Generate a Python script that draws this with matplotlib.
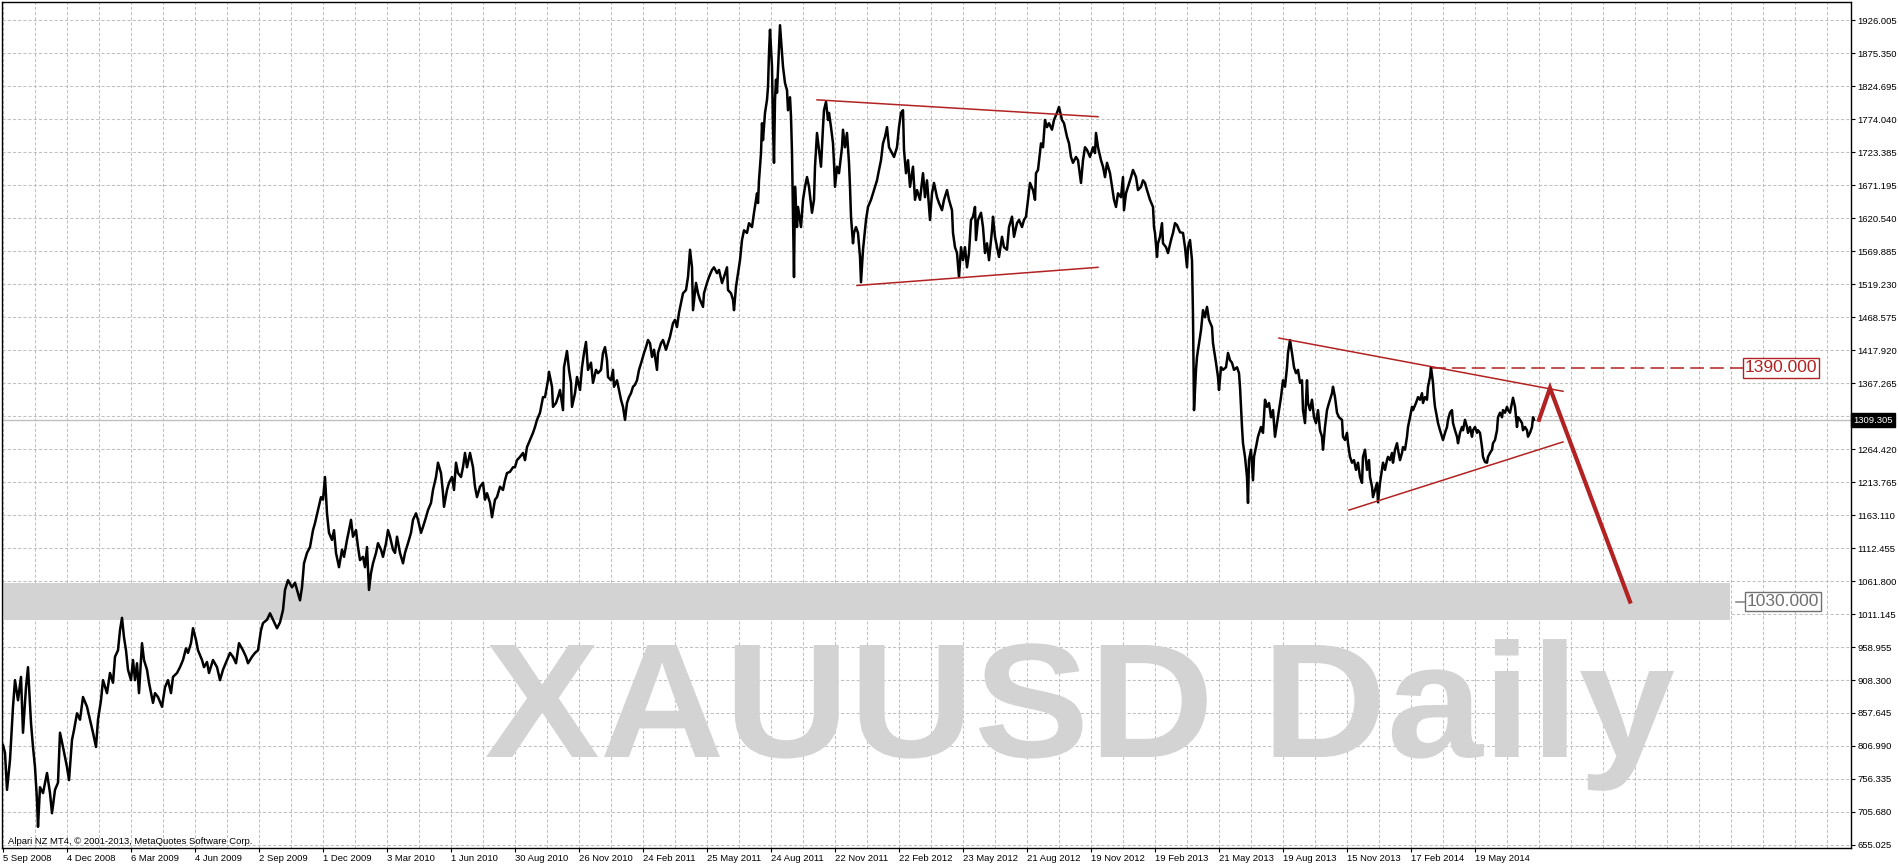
import matplotlib
matplotlib.use("Agg")
import matplotlib.pyplot as plt
from matplotlib.patches import Rectangle, PathPatch
from matplotlib.textpath import TextPath
from matplotlib.font_manager import FontProperties
from matplotlib.transforms import Affine2D, blended_transform_factory

# daily bar number (MT4 chart, one bar per column) and approx. price
bar = [3, 5, 7, 10, 13, 15, 18, 21, 23, 26, 28, 31, 33, 35, 37, 38, 40, 43, 47, 50,
       52, 55, 58, 60, 63, 67, 69, 72, 74, 77, 80, 83, 87, 90, 93, 96, 98, 101, 103, 107,
       110, 113, 115, 118, 120, 122, 124, 126, 128, 131, 133, 135, 137, 139, 142, 144, 147, 149, 153, 155,
       158, 162, 165, 168, 171, 173, 177, 180, 183, 186, 188, 191, 193, 196, 198, 202, 204, 207, 209, 213,
       217, 220, 223, 227, 230, 233, 236, 239, 243, 246, 248, 252, 255, 258, 261, 263, 267, 270, 273, 277,
       280, 283, 285, 288, 292, 295, 298, 300, 302, 304, 307, 310, 313, 315, 318, 321, 323, 325, 327, 329,
       332, 334, 336, 339, 342, 344, 347, 349, 351, 353, 356, 358, 360, 363, 365, 367, 369, 371, 373, 376,
       378, 381, 383, 386, 388, 390, 393, 395, 397, 400, 403, 405, 408, 411, 413, 416, 418, 421, 423, 426,
       428, 431, 433, 436, 438, 441, 443, 444, 447, 449, 452, 454, 456, 458, 461, 463, 465, 467, 470, 473,
       475, 477, 480, 483, 485, 487, 490, 492, 495, 497, 500, 503, 505, 507, 510, 513, 515, 517, 520, 523,
       525, 527, 530, 533, 535, 537, 540, 543, 545, 548, 549, 552, 553, 556, 558, 560, 563, 564, 567, 569,
       571, 572, 575, 577, 580, 582, 584, 586, 588, 591, 593, 596, 598, 601, 603, 605, 607, 608, 611, 613,
       614, 617, 619, 621, 623, 625, 627, 629, 631, 633, 635, 637, 639, 642, 644, 646, 648, 650, 652, 654,
       657, 658, 661, 663, 666, 668, 670, 673, 675, 677, 679, 681, 683, 686, 688, 690, 692, 693, 696, 698,
       700, 703, 704, 707, 709, 712, 714, 717, 719, 722, 724, 727, 728, 731, 733, 734, 736, 738, 740, 742,
       744, 747, 749, 752, 754, 757, 758, 759, 761, 762, 763, 765, 767, 768, 769, 770, 772, 773, 774, 775,
       776, 777, 779, 780, 782, 783, 785, 787, 788, 790, 791, 792, 793, 794, 795, 797, 798, 801, 803, 805,
       807, 809, 812, 814, 815, 817, 819, 821, 823, 824, 826, 828, 829, 831, 833, 834, 835, 837, 839, 842,
       843, 845, 847, 849, 850, 851, 853, 854, 856, 858, 860, 861, 863, 866, 868, 871, 873, 877, 879, 881,
       883, 885, 887, 889, 892, 894, 897, 899, 901, 903, 904, 906, 908, 910, 913, 915, 917, 920, 923, 925,
       927, 930, 932, 934, 937, 939, 942, 944, 947, 949, 952, 953, 955, 957, 959, 961, 963, 965, 967, 969,
       971, 973, 975, 976, 978, 981, 983, 985, 987, 989, 992, 993, 995, 997, 999, 1002, 1004, 1007, 1009, 1012,
       1014, 1017, 1019, 1022, 1024, 1026, 1028, 1030, 1033, 1035, 1036, 1038, 1041, 1043, 1045, 1047, 1049, 1052, 1054, 1057,
       1059, 1062, 1064, 1067, 1069, 1071, 1073, 1076, 1078, 1081, 1083, 1085, 1087, 1090, 1093, 1095, 1096, 1098, 1101, 1103,
       1105, 1107, 1110, 1112, 1114, 1116, 1118, 1121, 1123, 1124, 1126, 1128, 1131, 1133, 1136, 1138, 1141, 1143, 1145, 1147,
       1150, 1153, 1154, 1155, 1157, 1158, 1160, 1162, 1163, 1166, 1168, 1171, 1173, 1175, 1177, 1180, 1183, 1185, 1187, 1188,
       1190, 1192, 1193, 1194, 1196, 1197, 1199, 1201, 1203, 1205, 1207, 1209, 1212, 1213, 1216, 1218, 1219, 1221, 1223, 1226,
       1228, 1230, 1232, 1234, 1237, 1239, 1240, 1242, 1243, 1245, 1247, 1248, 1249, 1251, 1253, 1254, 1256, 1258, 1261, 1263,
       1265, 1267, 1269, 1271, 1273, 1275, 1277, 1279, 1281, 1283, 1285, 1287, 1288, 1290, 1292, 1294, 1296, 1298, 1300, 1302,
       1303, 1305, 1307, 1308, 1310, 1312, 1314, 1316, 1318, 1320, 1322, 1323, 1325, 1327, 1329, 1332, 1333, 1335, 1337, 1339,
       1342, 1343, 1345, 1347, 1348, 1350, 1352, 1354, 1356, 1358, 1360, 1362, 1363, 1365, 1367, 1369, 1370, 1372, 1373, 1375,
       1377, 1378, 1380, 1382, 1383, 1385, 1387, 1388, 1390, 1392, 1393, 1395, 1397, 1398, 1400, 1402, 1403, 1405, 1407, 1408,
       1410, 1412, 1413, 1416, 1418, 1420, 1422, 1423, 1425, 1427, 1428, 1430, 1431, 1433, 1434, 1435, 1437, 1438, 1440, 1442,
       1443, 1445, 1447, 1448, 1450, 1452, 1453, 1455, 1457, 1458, 1460, 1462, 1463, 1465, 1467, 1468, 1470, 1472, 1473, 1475,
       1477, 1478, 1480, 1482, 1483, 1485, 1487, 1488, 1490, 1492, 1493, 1495, 1497, 1498, 1500, 1502, 1503, 1505, 1507, 1508,
       1510, 1512, 1513, 1515, 1517, 1518, 1520, 1522, 1523, 1525, 1527, 1528, 1530, 1532, 1533, 1534]

price = [809, 797, 740, 786, 868, 909, 878, 914, 828, 898, 929, 843, 806, 775, 724, 683, 744, 735, 766, 735,
         704, 740, 751, 828, 806, 775, 755, 817, 832, 858, 848, 883, 868, 848, 828, 806, 848, 878, 909, 889,
         920, 905, 945, 955, 986, 1005, 975, 955, 925, 909, 940, 909, 935, 889, 966, 940, 925, 905, 874, 889,
         883, 868, 898, 909, 889, 914, 920, 929, 940, 958, 951, 966, 989, 971, 955, 940, 929, 937, 920, 940,
         929, 909, 925, 940, 951, 945, 935, 966, 955, 945, 935, 945, 951, 955, 986, 997, 1002, 1012, 1002, 989,
         998, 1017, 1048, 1063, 1052, 1059, 1043, 1032, 1052, 1089, 1105, 1114, 1140, 1151, 1171, 1191, 1187, 1222, 1166, 1136,
         1125, 1140, 1105, 1083, 1110, 1099, 1125, 1140, 1156, 1130, 1140, 1114, 1094, 1099, 1083, 1114, 1048, 1074, 1089, 1105,
         1120, 1110, 1099, 1120, 1140, 1130, 1110, 1105, 1130, 1105, 1089, 1105, 1120, 1136, 1156, 1166, 1156, 1136, 1145, 1160,
         1171, 1182, 1202, 1222, 1244, 1228, 1197, 1176, 1202, 1213, 1222, 1202, 1244, 1228, 1222, 1237, 1259, 1237, 1259, 1237,
         1207, 1191, 1207, 1213, 1187, 1197, 1182, 1160, 1187, 1191, 1207, 1202, 1217, 1228, 1230, 1237, 1237, 1248, 1253, 1259,
         1248, 1268, 1279, 1290, 1299, 1310, 1321, 1345, 1345, 1371, 1384, 1361, 1330, 1336, 1345, 1356, 1325, 1391, 1416, 1387,
         1367, 1330, 1351, 1376, 1356, 1391, 1413, 1430, 1387, 1398, 1367, 1387, 1382, 1387, 1413, 1422, 1402, 1376, 1371, 1387,
         1361, 1371, 1356, 1341, 1330, 1310, 1336, 1345, 1351, 1361, 1364, 1371, 1387, 1402, 1413, 1422, 1433, 1428, 1407, 1418,
         1387, 1413, 1428, 1433, 1418, 1428, 1438, 1459, 1464, 1453, 1475, 1490, 1505, 1510, 1530, 1572, 1545, 1479, 1521, 1505,
         1495, 1484, 1505, 1521, 1530, 1541, 1545, 1536, 1541, 1521, 1530, 1545, 1510, 1505, 1495, 1479, 1515, 1536, 1556, 1587,
         1602, 1598, 1613, 1607, 1629, 1659, 1644, 1679, 1721, 1767, 1741, 1783, 1803, 1823, 1875, 1911, 1854, 1761, 1706, 1803,
         1834, 1814, 1884, 1918, 1875, 1854, 1829, 1818, 1787, 1807, 1777, 1721, 1629, 1530, 1669, 1607, 1638, 1607, 1649, 1669,
         1684, 1669, 1629, 1649, 1700, 1752, 1726, 1700, 1761, 1787, 1800, 1772, 1783, 1761, 1736, 1706, 1669, 1700, 1690, 1730,
         1757, 1730, 1752, 1706, 1669, 1623, 1582, 1598, 1607, 1598, 1561, 1522, 1572, 1618, 1638, 1649, 1659, 1679, 1695, 1710,
         1736, 1746, 1761, 1730, 1721, 1715, 1730, 1761, 1783, 1787, 1726, 1690, 1710, 1669, 1700, 1649, 1664, 1649, 1690, 1653,
         1679, 1618, 1659, 1675, 1653, 1644, 1633, 1649, 1664, 1649, 1633, 1598, 1576, 1567, 1530, 1576, 1556, 1576, 1545, 1567,
         1618, 1623, 1638, 1587, 1618, 1629, 1607, 1567, 1582, 1556, 1602, 1623, 1592, 1576, 1561, 1592, 1576, 1572, 1607, 1623,
         1592, 1613, 1618, 1607, 1618, 1623, 1649, 1675, 1664, 1649, 1690, 1695, 1736, 1730, 1772, 1761, 1767, 1757, 1772, 1783,
         1792, 1772, 1767, 1746, 1736, 1715, 1706, 1715, 1710, 1675, 1710, 1730, 1726, 1715, 1730, 1721, 1752, 1730, 1710, 1700,
         1684, 1706, 1690, 1669, 1649, 1638, 1659, 1653, 1684, 1633, 1659, 1669, 1684, 1695, 1684, 1664, 1669, 1679, 1675, 1664,
         1649, 1638, 1607, 1598, 1561, 1582, 1592, 1613, 1582, 1576, 1567, 1587, 1598, 1613, 1610, 1599, 1598, 1576, 1545, 1576,
         1587, 1556, 1470, 1325, 1387, 1407, 1428, 1448, 1479, 1468, 1484, 1464, 1453, 1428, 1398, 1376, 1356, 1391, 1387, 1391,
         1413, 1402, 1398, 1387, 1391, 1382, 1361, 1299, 1274, 1253, 1222, 1182, 1248, 1264, 1217, 1253, 1268, 1284, 1299, 1290,
         1341, 1330, 1336, 1314, 1325, 1284, 1305, 1325, 1345, 1371, 1361, 1391, 1413, 1433, 1413, 1391, 1382, 1387, 1367, 1371,
         1325, 1305, 1371, 1336, 1325, 1341, 1314, 1305, 1325, 1294, 1284, 1264, 1299, 1325, 1336, 1351, 1361, 1345, 1321, 1314,
         1310, 1284, 1279, 1290, 1274, 1253, 1244, 1248, 1233, 1244, 1222, 1213, 1253, 1264, 1233, 1248, 1222, 1207, 1191, 1202,
         1213, 1183, 1213, 1233, 1244, 1233, 1248, 1253, 1248, 1259, 1244, 1264, 1274, 1264, 1248, 1259, 1268, 1264, 1284, 1299,
         1314, 1330, 1325, 1336, 1345, 1341, 1351, 1336, 1345, 1341, 1361, 1376, 1391, 1367, 1345, 1330, 1314, 1305, 1294, 1284,
         1279, 1290, 1299, 1310, 1321, 1325, 1305, 1294, 1284, 1274, 1290, 1299, 1294, 1310, 1299, 1290, 1299, 1284, 1294, 1299,
         1290, 1294, 1290, 1268, 1253, 1245, 1244, 1253, 1259, 1264, 1274, 1279, 1294, 1314, 1321, 1314, 1325, 1321, 1330, 1325,
         1321, 1336, 1344, 1330, 1299, 1314, 1310, 1305, 1294, 1299, 1294, 1284, 1290, 1299, 1314, 1310]

date_labels = ["5 Sep 2008", "4 Dec 2008", "6 Mar 2009", "4 Jun 2009", "2 Sep 2009", "1 Dec 2009",
               "3 Mar 2010", "1 Jun 2010", "30 Aug 2010", "26 Nov 2010", "24 Feb 2011", "25 May 2011",
               "24 Aug 2011", "22 Nov 2011", "22 Feb 2012", "23 May 2012", "21 Aug 2012", "19 Nov 2012",
               "19 Feb 2013", "21 May 2013", "19 Aug 2013", "15 Nov 2013", "17 Feb 2014", "19 May 2014"]
price_labels = ["655.025", "705.680", "756.335", "806.990", "857.645", "908.300", "958.955",
                "1011.145", "1061.800", "1112.455", "1163.110", "1213.765", "1264.420", "1315.875",
                "1367.265", "1417.920", "1468.575", "1519.230", "1569.885", "1620.540", "1671.195",
                "1723.385", "1774.040", "1824.695", "1875.350", "1926.005"]
last_price = 1309.305

# trend lines drawn on the chart (bar, price)
top1_x, top1_y = [817, 1098], [1803, 1777]
bot1_x, bot1_y = [857, 1098], [1517, 1545]
top2_x, top2_y = [1279, 1563], [1436, 1354]
bot2_x, bot2_y = [1349, 1563], [1171, 1276]
resist_x, resist_y = [1432, 1743], [1390, 1390]
proj_x, proj_y = [1539, 1550, 1630], [1310, 1359, 1030]
zone_lo, zone_hi, zone_end = 1002, 1059, 1730

W, H = 1898, 866
RED = "#b22222"
GRID = "#c0c0c0"
FONT = "Liberation Sans"

fig = plt.figure(figsize=(W / 100, H / 100), dpi=100)
ax = fig.add_axes([2 / W, 18 / H, 1849 / W, 846 / H])
ax.set_xlim(2, 1851)
ax.set_ylim(650.4, 1953.75)

step = (1926.005 - 655.025) / 25
yticks = [655.025 + k * step for k in range(len(price_labels))]
xticks = [3 + 64 * k for k in range(len(date_labels))]

# grid
for v in yticks:
    ax.axhline(v, color=GRID, lw=0.75, ls=(0, (3, 2)), zorder=0.5)
for xv in range(3, 1851, 32):
    ax.axvline(xv, color=GRID, lw=0.75, ls=(0, (3, 2)), zorder=0.5)

# 1030 support zone
ax.add_patch(Rectangle((2, zone_lo), zone_end - 2, zone_hi - zone_lo,
                       facecolor="#d3d3d3", edgecolor="none", zorder=1))

# watermark, fitted to the box it takes in the screenshot
fp = FontProperties(family=FONT, weight="bold")
tp = TextPath((0, 0), "XAUUSD Daily", size=100, prop=fp)
ext = tp.get_extents()
cap = TextPath((0, 0), "X", size=100, prop=fp).get_extents().y1
tr = Affine2D().translate(-ext.x0, 0).scale(1188 / ext.width, 112 / cap).translate(486, H - 757)
ax.add_patch(PathPatch(tp, transform=tr, facecolor="#d3d3d3", edgecolor="none", zorder=1.2))

# last price line
ax.axhline(last_price, color=GRID, lw=1, zorder=1.5)

# price
ax.plot(bar, price, color="black", lw=1.8, zorder=3)

# drawn objects
for xs, ys in [(top1_x, top1_y), (bot1_x, bot1_y), (top2_x, top2_y), (bot2_x, bot2_y)]:
    ax.plot(xs, ys, color=RED, lw=1.1, zorder=4)
ax.plot(resist_x, resist_y, color=RED, lw=1.1, ls=(0, (9, 4)), zorder=4)
ax.plot(proj_x, proj_y, color=RED, lw=3, zorder=4, solid_joinstyle="miter")
ax.plot([1736, 1746], [1030, 1030], color="#808080", lw=1.1, zorder=4)

ax.text(1781, 1390, "1390.000", color=RED, fontsize=12.5, family=FONT, ha="center", va="center",
        zorder=5, bbox=dict(boxstyle="square,pad=0.12", facecolor="white", edgecolor=RED, lw=1))
ax.text(1783, 1030, "1030.000", color="#707070", fontsize=12.5, family=FONT, ha="center", va="center",
        zorder=5, bbox=dict(boxstyle="square,pad=0.12", facecolor="white", edgecolor="#707070", lw=1))

ax.text(6 / 1849, 7 / 846, "Alpari NZ MT4, \u00a9 2001-2013, MetaQuotes Software Corp.",
        transform=ax.transAxes, fontsize=6.8, family=FONT, ha="left", va="center", zorder=5)

# axes
for s in ax.spines.values():
    s.set_color("black")
    s.set_linewidth(1)
ax.yaxis.tick_right()
ax.set_yticks(yticks, price_labels)
ax.set_xticks(xticks, date_labels, ha="left")
ax.tick_params(axis="y", length=3, width=0.8, pad=1.5, labelsize=6.8, labelfontfamily=FONT)
ax.tick_params(axis="x", length=3, width=0.8, pad=1, labelsize=6.8, labelfontfamily=FONT)

bt = blended_transform_factory(ax.transAxes, ax.transData)
ax.text(1.0012, last_price, "1309.305", transform=bt, color="white", fontsize=6.8, family=FONT,
        ha="left", va="center", clip_on=False, zorder=6,
        bbox=dict(boxstyle="square,pad=0.25", facecolor="black", edgecolor="black"))

fig.savefig("out.png", dpi=100, facecolor="white")
